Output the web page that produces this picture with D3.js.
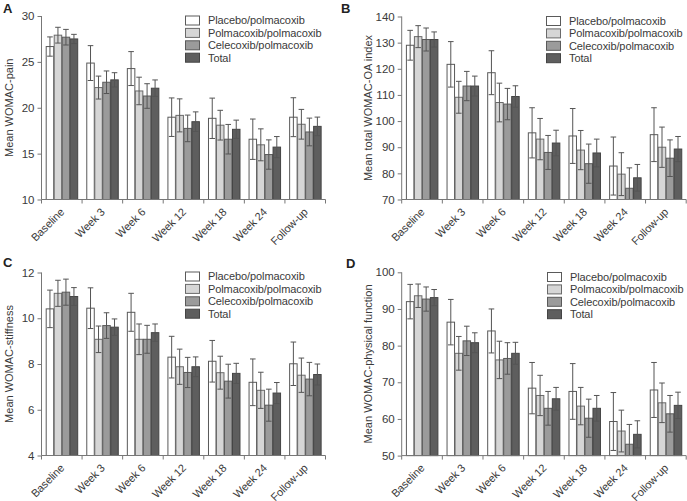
<!DOCTYPE html>
<html><head><meta charset="utf-8">
<script src="https://cdn.jsdelivr.net/npm/d3@7"></script>
<style>body{margin:0;background:#fff}svg{display:block;font-family:"Liberation Sans",Arial,sans-serif}</style>
</head><body><svg id="c" width="687" height="501"></svg>
<script>
const categories = ["Baseline","Week 3","Week 6","Week 12","Week 18","Week 24","Follow-up"];
const seriesNames = ["Placebo/polmacoxib","Polmacoxib/polmacoxib","Celecoxib/polmacoxib","Total"];

const painMean = [
  [26.67,24.87,24.27,18.97,18.85,16.57,18.97],
  [27.91,22.20,21.83,19.17,18.10,15.96,18.20],
  [27.69,22.78,21.28,17.75,16.57,14.90,17.36],
  [27.50,23.04,22.13,18.48,17.65,15.71,17.97]];
const painErr = [
  [1.05,1.90,1.85,2.10,2.20,2.20,2.12],
  [0.86,1.25,1.50,1.80,1.62,1.74,1.62],
  [0.85,1.23,1.34,1.45,1.61,1.60,1.51],
  [0.50,0.78,0.90,1.07,1.00,1.15,1.01]];

const totalMean = [
  [129.0,121.7,118.5,95.5,94.3,82.8,94.8],
  [132.3,109.1,107.1,93.1,88.9,79.7,90.0],
  [131.2,113.4,106.5,88.0,83.7,74.3,85.8],
  [131.2,113.4,109.4,91.6,87.8,78.3,89.3]];
const totalErr = [
  [5.7,8.7,8.4,9.6,10.5,11.1,10.3],
  [4.2,6.1,7.4,7.9,7.5,8.2,7.7],
  [4.4,5.6,6.0,6.5,7.5,7.8,7.0],
  [2.9,3.8,4.1,4.9,5.3,5.1,4.8]];

const stiffMean = [
  [10.41,10.44,10.26,8.30,8.12,7.20,8.01],
  [11.09,9.08,9.08,7.88,7.62,6.85,7.51],
  [11.14,9.68,9.08,7.63,7.25,6.20,7.34],
  [10.95,9.61,9.37,7.88,7.59,6.73,7.54]];
const stiffErr = [
  [0.82,0.89,0.83,0.91,0.91,1.02,0.95],
  [0.57,0.58,0.67,0.77,0.72,0.79,0.75],
  [0.57,0.56,0.61,0.66,0.74,0.70,0.73],
  [0.39,0.36,0.38,0.43,0.44,0.46,0.46]];

const funcMean = [
  [92.0,86.4,84.0,68.4,67.5,59.3,67.9],
  [93.6,77.9,76.1,66.4,63.5,56.7,64.4],
  [92.7,81.3,76.5,62.9,60.2,53.1,61.4],
  [93.1,80.8,77.9,65.5,62.9,55.8,63.7]];
const funcErr = [
  [4.7,6.2,6.0,7.0,7.6,7.9,7.5],
  [3.2,4.6,5.1,5.5,5.1,5.7,5.4],
  [3.3,4.0,4.3,4.6,5.2,5.4,5.0],
  [2.2,2.7,3.0,3.1,3.5,3.7,3.6]];

const painTicks = [10,15,20,25,30];
const totalTicks = [70,80,90,100,110,120,130,140];
const stiffTicks = [4,6,8,10,12];
const funcTicks = [50,60,70,80,90,100];

const fills = ["#ffffff","#d6d6d6","#9b9b9b","#5e5e5e"];
const strokes = ["#5a5a5a","#6a6a6a","#5a5a5a","#444444"];

const svg = d3.select("#c");

const panels = [
  {letter:"A", lx:3, ly:13, mean:painMean, err:painErr, ticks:painTicks, dom:[10,30], x0:41.5, x1:325.5, yTop:16, yBot:199.5, ylab:"Mean WOMAC-pain", ylx:9, legX:185, legY:20.5},
  {letter:"B", lx:341, ly:13, mean:totalMean, err:totalErr, ticks:totalTicks, dom:[70,140], x0:401.7, x1:686.2, yTop:16.5, yBot:199.5, ylab:"Mean total WOMAC-OA index", ylx:368, legX:546, legY:21},
  {letter:"C", lx:3, ly:267, mean:stiffMean, err:stiffErr, ticks:stiffTicks, dom:[4,12], x0:41.5, x1:325.5, yTop:272.5, yBot:455.5, ylab:"Mean WOMAC-stiffness", ylx:9, legX:185, legY:276.5},
  {letter:"D", lx:346, ly:268, mean:funcMean, err:funcErr, ticks:funcTicks, dom:[50,100], x0:401.7, x1:686.2, yTop:272.3, yBot:455.6, ylab:"Mean WOMAC-physical function", ylx:368, legX:547, legY:277}
];

panels.forEach(p => {
  const g = svg.append("g");
  const x = d3.scaleBand().domain(categories).range([p.x0, p.x1]).padding(0);
  const bw = x.bandwidth();
  const xs = d3.scaleBand().domain(d3.range(4)).range([4.2, 36.2]).padding(0);
  const y = d3.scaleLinear().domain(p.dom).range([p.yBot, p.yTop]);

  p.mean.forEach((vals, si) => {
    g.selectAll(null).data(vals).join("rect")
      .attr("x", (d,i) => x(categories[i]) + xs(si) + 0.5)
      .attr("y", d => y(d))
      .attr("width", xs.bandwidth() - 0.5)
      .attr("height", d => p.yBot - y(d))
      .attr("fill", fills[si])
      .attr("stroke", strokes[si])
      .attr("stroke-width", 1);
  });
  p.mean.forEach((vals, si) => {
    vals.forEach((v, i) => {
      const cx = x(categories[i]) + xs(si) + xs.bandwidth()/2 + 0.25;
      const hi = v + p.err[si][i];
      const lo = Math.max(p.dom[0], v - p.err[si][i]);
      const col = "#555";
      g.append("line").attr("x1",cx).attr("x2",cx).attr("y1",y(hi)).attr("y2",y(lo)).attr("stroke",col).attr("stroke-width",1);
      g.append("line").attr("x1",cx-2.8).attr("x2",cx+2.8).attr("y1",y(hi)).attr("y2",y(hi)).attr("stroke",col).attr("stroke-width",1);
      if (lo > p.dom[0])
        g.append("line").attr("x1",cx-2.8).attr("x2",cx+2.8).attr("y1",y(lo)).attr("y2",y(lo)).attr("stroke",col).attr("stroke-width",1);
    });
  });

  const ya = g.append("g").attr("transform", `translate(${p.x0},0)`)
    .call(d3.axisLeft(y).tickValues(p.ticks).tickSize(4).tickSizeOuter(0).tickPadding(3));
  ya.select(".domain").attr("stroke","#777").attr("d", `M0,${p.yTop}V${p.yBot}`);
  ya.selectAll(".tick line").attr("stroke","#777");
  ya.selectAll(".tick text").attr("fill","#3a3a3a").style("font-size","11.5px").style("font-family","'Liberation Sans',Arial,sans-serif");

  const xa = g.append("g").attr("transform", `translate(0,${p.yBot})`);
  xa.append("line").attr("x1",p.x0).attr("x2",p.x1).attr("stroke","#777");
  const bounds = categories.map(c => x(c)).concat([p.x1]);
  xa.selectAll("line.tk").data(bounds).join("line").attr("class","tk")
    .attr("x1",d=>d).attr("x2",d=>d).attr("y1",0).attr("y2",4).attr("stroke","#777");
  xa.selectAll("text").data(categories).join("text")
    .attr("transform", d => `translate(${x(d)+bw/2+0.5},${10.5}) rotate(-45)`)
    .attr("text-anchor","end").attr("dy","0.35em")
    .attr("fill","#3a3a3a").style("font-size","11px").style("letter-spacing","-0.1px").text(d=>d);

  g.append("text").attr("transform", `translate(${p.ylx},${(p.yTop+p.yBot)/2}) rotate(-90)`)
    .attr("text-anchor","middle").attr("dy","0.35em").attr("fill","#3a3a3a").style("font-size","11px").text(p.ylab);

  g.append("text").attr("x",p.lx).attr("y",p.ly).attr("fill","#222").style("font-size","13px").style("font-weight","bold").text(p.letter);

  seriesNames.forEach((s, si) => {
    const ly = p.legY + si*12.4;
    g.append("rect").attr("x",p.legX+0.5).attr("y",ly-4.5).attr("width",14).attr("height",9)
      .attr("fill",fills[si]).attr("stroke",strokes[si]);
    g.append("text").attr("x",p.legX+23).attr("y",ly).attr("dy","0.35em")
      .attr("fill","#3a3a3a").style("font-size","11px").style("letter-spacing","-0.1px").text(s);
  });
});
</script></body></html>
